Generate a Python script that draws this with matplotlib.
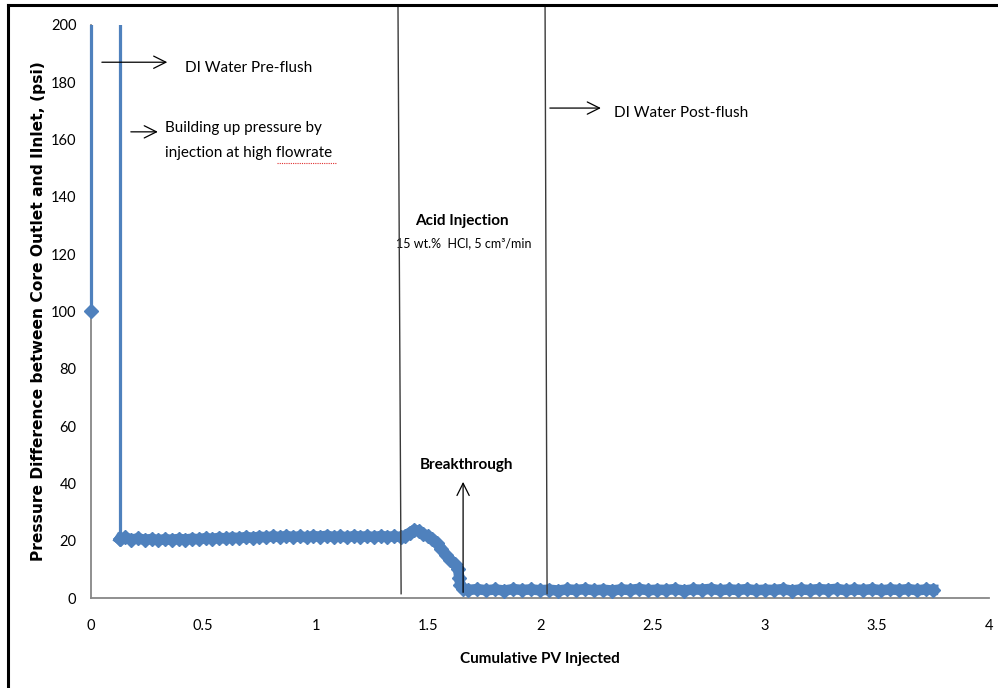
import matplotlib
matplotlib.use("Agg")
import matplotlib.pyplot as plt
from matplotlib.lines import Line2D
from matplotlib.patches import Rectangle

plt.rcParams['font.family'] = ['Lato', 'DejaVu Sans']

BLUE = '#4F81BD'

# ---- data ----
pv_spike = [0.0, 0.0, 0.128, 0.128]
dp_spike = [100, 320, 320, 20.6]

pv_plateau = [0.13, 0.15, 0.18, 0.21, 0.24, 0.27, 0.30, 0.33, 0.36, 0.39,
              0.42, 0.45, 0.48, 0.51, 0.54, 0.57, 0.60, 0.63, 0.66, 0.69,
              0.72, 0.75, 0.78, 0.81, 0.84, 0.87, 0.90, 0.93, 0.96, 0.99,
              1.02, 1.05, 1.08, 1.11, 1.14, 1.17, 1.20, 1.23, 1.26, 1.29,
              1.32, 1.35, 1.38]
dp_plateau = [20.5, 21.2, 20.4, 20.8, 20.3, 20.6, 20.2, 20.5, 20.3, 20.6,
              20.4, 20.7, 20.5, 20.9, 20.6, 21.0, 20.8, 21.1, 20.9, 21.3,
              21.0, 21.4, 21.2, 21.5, 21.3, 21.6, 21.3, 21.5, 21.2, 21.6,
              21.4, 21.7, 21.3, 21.5, 21.2, 21.6, 21.4, 21.5, 21.3, 21.6,
              21.4, 21.5, 21.3]

pv_acid = [1.40, 1.42, 1.44, 1.46, 1.48, 1.50, 1.52, 1.54, 1.56, 1.58,
           1.60, 1.62, 1.635, 1.64, 1.645, 1.655]
dp_acid = [21.8, 22.8, 23.8, 23.4, 22.3, 21.6, 20.6, 19.2, 17.2, 15.0,
           13.3, 11.8, 10.2, 7.0, 4.6, 3.2]

pv_post = [1.68, 1.72, 1.76, 1.80, 1.84, 1.88, 1.92, 1.96, 2.00, 2.04,
           2.08, 2.12, 2.16, 2.20, 2.24, 2.28, 2.32, 2.36, 2.40, 2.44,
           2.48, 2.52, 2.56, 2.60, 2.64, 2.68, 2.72, 2.76, 2.80, 2.84,
           2.88, 2.92, 2.96, 3.00, 3.04, 3.08, 3.12, 3.16, 3.20, 3.24,
           3.28, 3.32, 3.36, 3.40, 3.44, 3.48, 3.52, 3.56, 3.60, 3.64,
           3.68, 3.72, 3.75]
dp_post = [2.8, 3.1, 2.7, 3.0, 2.6, 3.1, 2.8, 3.0, 2.7, 2.9,
           2.6, 3.0, 2.8, 3.1, 2.7, 2.9, 2.6, 3.0, 2.8, 3.2,
           2.7, 2.9, 2.8, 3.1, 2.6, 3.0, 2.9, 3.2, 2.7, 3.0,
           2.8, 3.1, 2.7, 2.9, 2.8, 3.1, 2.6, 3.0, 2.8, 3.1,
           2.9, 3.2, 2.7, 3.0, 2.8, 3.1, 2.7, 3.0, 2.8, 3.1,
           2.7, 3.0, 2.9]

x_ticks = [0, 0.5, 1, 1.5, 2, 2.5, 3, 3.5, 4]
x_tick_labels = ['0', '0.5', '1', '1.5', '2', '2.5', '3', '3.5', '4']
y_ticks = [0, 20, 40, 60, 80, 100, 120, 140, 160, 180, 200]

stage_lines = [(1.367, 1.381), (2.022, 2.031)]

# ---- figure ----
fig = plt.figure(figsize=(9.98, 6.88), dpi=100)
ax = fig.add_axes([0.0912, 0.1308, 0.9, 0.8329])

clip_rect = Rectangle((-0.01, 0), 1.02, 1, transform=ax.transAxes,
                      facecolor='none', edgecolor='none')
ax.add_patch(clip_rect)

spike, = ax.plot(pv_spike, dp_spike, color=BLUE, lw=2.3, solid_joinstyle='miter', zorder=3)
spike.set_clip_path(clip_rect)
ax.plot(pv_spike[:1], dp_spike[:1], 'D', color=BLUE, ms=7, zorder=3, clip_on=False)

band_x = [pv_spike[-1]] + pv_plateau + pv_acid + pv_post
band_y = [dp_spike[-1]] + dp_plateau + dp_acid + dp_post
ax.plot(band_x, band_y, color=BLUE, lw=7.6, marker='D', ms=7.6,
        solid_joinstyle='round', zorder=3)

ax.set_xlim(0, 4)
ax.set_ylim(0, 200)
ax.set_xticks(x_ticks)
ax.set_xticklabels(x_tick_labels)
ax.set_yticks(y_ticks)
ax.tick_params(axis='both', length=0, labelsize=10.5, colors='#000000')
ax.tick_params(axis='y', pad=10.5)
ax.tick_params(axis='x', pad=15)
for s in ('top', 'right'):
    ax.spines[s].set_visible(False)
for s in ('left', 'bottom'):
    ax.spines[s].set_color('#878787')
    ax.spines[s].set_linewidth(1.3)

ax.set_xlabel('Cumulative PV Injected', fontsize=11, fontweight='bold', labelpad=14)
ax.set_ylabel('Pressure Difference between Core Outlet and IInlet, (psi)',
              fontsize=11.2, fontweight='bold', family=['DejaVu Sans'])
ax.yaxis.set_label_coords(-0.0505, 0.5)

# stage boundary lines
for xt, xb in stage_lines:
    ax.plot([xt, xb], [207, 1.5], color='#3a3a3a', lw=1.0, clip_on=False, zorder=4)

arrow = dict(arrowstyle='->', color='black', lw=0.9, mutation_scale=22)
ax.annotate('', xy=(0.352, 187), xytext=(0.036, 187), arrowprops=arrow, annotation_clip=False)
ax.annotate('', xy=(0.31, 162.7), xytext=(0.165, 162.7), arrowprops=arrow, annotation_clip=False)
ax.annotate('', xy=(2.283, 171), xytext=(2.031, 171), arrowprops=arrow, annotation_clip=False)
ax.annotate('', xy=(1.657, 41.5), xytext=(1.657, 1.0), arrowprops=arrow, annotation_clip=False)

ax.text(0.419, 185, 'DI Water Pre-flush', fontsize=11, va='center', ha='left')
ax.text(0.33, 164, 'Building up pressure by', fontsize=11, va='center', ha='left')
ax.text(0.33, 155.3, 'injection at high flowrate', fontsize=11, va='center', ha='left')
ax.text(2.33, 169.3, 'DI Water Post-flush', fontsize=11, va='center', ha='left')
ax.text(1.653, 131.6, 'Acid Injection', fontsize=11, fontweight='bold', va='center', ha='center')
ax.text(1.661, 123.9, '15 wt.%  HCl, 5 cm³/min', fontsize=9, va='center', ha='center')
ax.text(1.67, 46.4, 'Breakthrough', fontsize=11, fontweight='bold', va='center', ha='center')

# spell-check squiggle under "flowrate"
ax.plot([0.83, 1.09], [151.8, 151.8], color='#e03030', lw=0.8, ls=(0, (1, 1)))

# outer frame (top and left)
fig.add_artist(Line2D([8 / 998, 1.0], [1 - 5 / 688, 1 - 5 / 688], color='black', lw=2.2,
                      transform=fig.transFigure))
fig.add_artist(Line2D([8 / 998, 8 / 998], [0, 1 - 5 / 688], color='black', lw=2.2,
                      transform=fig.transFigure))

fig.savefig('out.png', dpi=100)
